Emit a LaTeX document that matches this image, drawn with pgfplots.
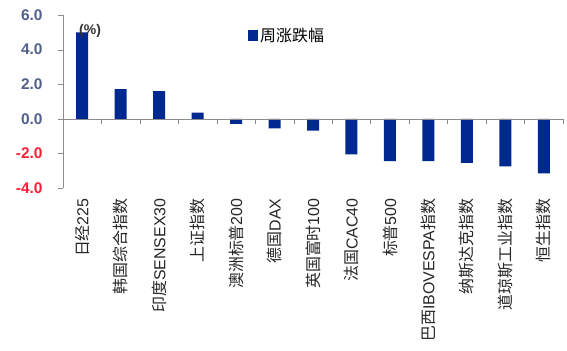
\documentclass[border=0pt]{standalone}
\usepackage{pgfplots}
\pgfplotsset{compat=1.18}
\usepackage{fontspec}
\setmainfont{Liberation Sans}
\newfontfamily\cjk{Noto Sans CJK SC}
\definecolor{barblue}{RGB}{0,41,143}
\definecolor{axgray}{RGB}{140,140,140}
\definecolor{poslab}{RGB}{80,96,138}
\definecolor{neglab}{RGB}{255,30,50}
\begin{document}
\begin{tikzpicture}
\useasboundingbox (-63bp,-163bp) rectangle (504bp,188bp);
\begin{axis}[
  at={(0,0)}, anchor=south west,
  scale only axis, width=500bp, height=173bp,
  xmin=-0.5, xmax=12.5, ymin=-4, ymax=6,
  axis lines=left,
  axis line style={-},
  x axis line style={draw=none},
  y axis line style={axgray},
  ybar, bar width=12bp,
  xtick={0,...,12},
  xtick style={draw=none},
  xticklabels={{\cjk 日经}225,{\cjk 韩国综合指数},{\cjk 印度}SENSEX30,{\cjk 上证指数},{\cjk 澳洲标普}200,{\cjk 德国}DAX,{\cjk 英国富时}100,{\cjk 法国}CAC40,{\cjk 标普}500,{\cjk 巴西}IBOVESPA{\cjk 指数},{\cjk 纳斯达克指数},{\cjk 道琼斯工业指数},{\cjk 恒生指数}},
  xticklabel style={rotate=90, anchor=east, font=\fontsize{16}{18}\selectfont, text=black!85, xshift=-2bp},
  ytick={-4,-2,0,2,4,6},
  yticklabels={\textcolor{neglab}{-4.0},\textcolor{neglab}{-2.0},\textcolor{poslab}{0.0},\textcolor{poslab}{2.0},\textcolor{poslab}{4.0},\textcolor{poslab}{6.0}},
  yticklabel style={font=\fontsize{15.5}{17}\selectfont\bfseries, xshift=-12bp},
  ytick style={axgray},
  tick align=outside,
  major tick length=5bp,
  legend style={draw=none, fill=none, at={(0.37,0.879)}, anchor=west, font=\fontsize{16}{18}\selectfont\cjk, inner sep=0pt},
  legend image code/.code={\fill[barblue] (0bp,-5.5bp) rectangle (10bp,5.5bp);},
  clip=false,
]
\addplot[fill=barblue, draw=none] coordinates {
  (0,5.0) (1,1.72) (2,1.6) (3,0.35) (4,-0.3) (5,-0.55) (6,-0.68) (7,-2.05) (8,-2.45) (9,-2.45) (10,-2.55) (11,-2.75) (12,-3.15)
};
\addlegendentry{周涨跌幅}
\draw[axgray] (axis cs:-0.5,0) -- (axis cs:12.5,0);
\pgfplotsinvokeforeach{0,...,13}{\draw[axgray] (axis cs:#1-0.5,0) -- ++(0bp,-5bp);}
\node[anchor=west, font=\fontsize{14}{16}\selectfont\bfseries, text=black!80] at (axis cs:-0.17,5.1) {(\%)};
\end{axis}
\end{tikzpicture}
\end{document}
